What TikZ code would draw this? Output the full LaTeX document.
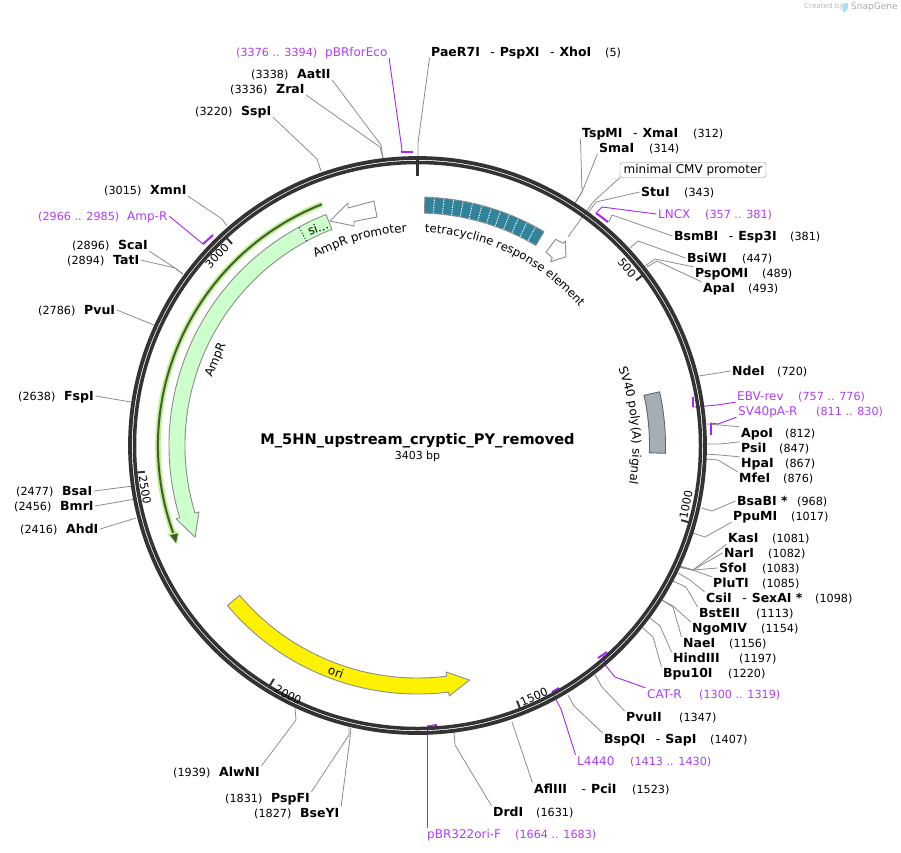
\documentclass[tikz,border=0pt]{standalone}
\usepackage{fontspec}
\setmainfont{DejaVu Sans}
\usetikzlibrary{positioning,calc,decorations.text}
\definecolor{ringgray}{HTML}{333333}
\definecolor{leadgray}{HTML}{8C8C8C}
\definecolor{primer}{HTML}{A626F5}
\definecolor{primertext}{HTML}{AD3DFB}
\definecolor{amprgreen}{HTML}{CCFFCC}
\definecolor{glowgreen}{HTML}{B9F28A}
\definecolor{darkgreen}{HTML}{485A33}
\definecolor{tealbox}{HTML}{31829B}
\definecolor{polygray}{HTML}{A5ADB5}
\newcommand{\sitesep}{\hspace{10.5pt}{\mdseries-}\hspace{5pt}}
\newcommand{\lblsize}{\fontsize{12.5}{15}\selectfont}
\newcommand{\numsize}{\fontsize{11.2}{14}\selectfont}
\newcommand{\featsize}{\fontsize{12}{14}\selectfont}

\begin{document}
\begin{tikzpicture}[
    x=1pt, y=-1pt,
    site/.style={anchor=west, xshift=-1.5pt, inner sep=1.5pt, text height=9pt, text depth=0pt, font=\lblsize\bfseries},
    num/.style={anchor=west, xshift=-1.5pt, inner sep=1.5pt, text height=9pt, text depth=0pt, font=\numsize},
    psite/.style={num, text=primertext, font=\featsize},
    pnum/.style={num, text=primertext},
    lead/.style={draw=leadgray, line width=0.8pt},
    plead/.style={draw=primer, line width=0.9pt},
    pbar/.style={draw=primer, line width=2pt},
    feature/.style={draw=leadgray, line width=0.9pt, line join=round},
    tick/.style={draw=ringgray, line width=2pt},
    ticklabel/.style={inner sep=0pt, font=\numsize},
    ftext/.style={inner sep=0pt, font=\featsize}
]
\useasboundingbox (0,0) rectangle (901,852);
\coordinate (center) at (417.5,445.5);

% Sites, clockwise from the top
\node[site] (PaeR) at (431,52) {PaeR7I\sitesep PspXI\sitesep XhoI}; \node[num] (nPaeR) at (605,52) {(5)};
\coordinate (rPaeR) at (418,157); \draw[lead] (PaeR.south west) -- (418,143) -- (rPaeR);
\node[site] (TspMI) at (582,133) {TspMI\sitesep XmaI}; \node[num] (nTspMI) at (693,133) {(312)};
\coordinate (rTspMI) at (575,203); \draw[lead] (TspMI.south west) -- (582,192) -- (rTspMI);
\node[site] (SmaI) at (599,147.5) {SmaI}; \node[num] (nSmaI) at (649,147.5) {(314)};
\coordinate (rSmaI) at (575,203); \draw[lead] (SmaI.south west) -- (582,192) -- (rSmaI);
\node[site] (StuI) at (641,192) {StuI}; \node[num] (nStuI) at (684,192) {(343)};
\coordinate (rStuI) at (588,213); \draw[lead] (StuI.west) -- (596,202) -- (rStuI);
\node[site] (BsmBI) at (674,236) {BsmBI\sitesep Esp3I}; \node[num] (nBsmBI) at (790,236) {(381)};
\coordinate (rBsmBI) at (609,222); \draw[lead] (BsmBI.west) -- (612,215) -- (rBsmBI);
\node[site] (BsiWI) at (687,258) {BsiWI}; \node[num] (nBsiWI) at (742,258) {(447)};
\coordinate (rBsiWI) at (630,248); \draw[lead] (BsiWI.west) -- (638,241) -- (rBsiWI);
\node[site] (PspOMI) at (695,273) {PspOMI}; \node[num] (nPspOMI) at (762,273) {(489)};
\coordinate (rPspOMI) at (645,266); \draw[lead] (PspOMI.north west) -- (655,259) -- (rPspOMI);
\node[site] (ApaI) at (703,288) {ApaI}; \node[num] (nApaI) at (748,288) {(493)};
\coordinate (rApaI) at (647,267); \draw[lead] (ApaI.north west) -- (657,261) -- (rApaI);
\node[site] (NdeI) at (732,371) {NdeI}; \node[num] (nNdeI) at (777,371) {(720)};
\coordinate (rNdeI) at (699,376); \draw[lead] (NdeI.west) -- (rNdeI);
\node[site] (ApoI) at (741,433) {ApoI}; \node[num] (nApoI) at (785,433) {(812)};
\coordinate (rApoI) at (707,424); \draw[lead] (ApoI.north west) -- (720,425) -- (rApoI);
\node[site] (PsiI) at (741,448) {PsiI}; \node[num] (nPsiI) at (779,448) {(847)};
\coordinate (rPsiI) at (706,444); \draw[lead] (PsiI.north west) -- (720,444) -- (rPsiI);
\node[site] (HpaI) at (741,463) {HpaI}; \node[num] (nHpaI) at (785,463) {(867)};
\coordinate (rHpaI) at (706,454); \draw[lead] (HpaI.north west) -- (720,455) -- (rHpaI);
\node[site] (MfeI) at (739,478) {MfeI}; \node[num] (nMfeI) at (783,478) {(876)};
\coordinate (rMfeI) at (706,459); \draw[lead] (MfeI.north west) -- (718,460) -- (rMfeI);
\node[site] (BsaBI) at (737,501) {BsaBI *}; \node[num] (nBsaBI) at (797,501) {(968)};
\coordinate (rBsaBI) at (702,508); \draw[lead] (BsaBI.west) -- (712,511) -- (rBsaBI);
\node[site] (PpuMI) at (733,516) {PpuMI}; \node[num] (nPpuMI) at (791,516) {(1017)};
\coordinate (rPpuMI) at (693,533); \draw[lead] (PpuMI.south west) -- (705,537) -- (rPpuMI);
\node[site] (KasI) at (728,538) {KasI}; \node[num] (nKasI) at (772,538) {(1081)};
\coordinate (rKasI) at (680,566); \draw[lead] (KasI.south west) -- (693,570) -- (rKasI);
\node[site] (NarI) at (724,553) {NarI}; \node[num] (nNarI) at (768,553) {(1082)};
\coordinate (rNarI) at (680,566.5); \draw[lead] (NarI.west) -- (693,570) -- (rNarI);
\node[site] (SfoI) at (719,568) {SfoI}; \node[num] (nSfoI) at (762,568) {(1083)};
\coordinate (rSfoI) at (680,567); \draw[lead] (SfoI.west) -- (693,570) -- (rSfoI);
\node[site] (PluTI) at (713,583) {PluTI}; \node[num] (nPluTI) at (762,583) {(1085)};
\coordinate (rPluTI) at (680,567.5); \draw[lead] (PluTI.north west) -- (693,570) -- (rPluTI);
\node[site] (CsiI) at (706,598) {CsiI\sitesep SexAI *}; \node[num] (nCsiI) at (815,598) {(1098)};
\coordinate (rCsiI) at (678,573); \draw[lead] (CsiI.north west) -- (690,580) -- (rCsiI);
\node[site] (BstEII) at (699,613) {BstEII}; \node[num] (nBstEII) at (756,613) {(1113)};
\coordinate (rBstEII) at (673,581); \draw[lead] (BstEII.north west) -- (686,587) -- (rBstEII);
\node[site] (NgoMIV) at (692,628) {NgoMIV}; \node[num] (nNgoMIV) at (761,628) {(1154)};
\coordinate (rNgoMIV) at (662,600); \draw[lead] (NgoMIV.north west) -- (673,606) -- (rNgoMIV);
\node[site] (NaeI) at (683,643) {NaeI}; \node[num] (nNaeI) at (729,643) {(1156)};
\coordinate (rNaeI) at (662,600); \draw[lead] (NaeI.north west) -- (673,607) -- (rNaeI);
\node[site] (HindIII) at (673,658) {HindIII}; \node[num] (nHindIII) at (739,658) {(1197)};
\coordinate (rHindIII) at (650,618); \draw[lead] (HindIII.north west) -- (660,626) -- (rHindIII);
\node[site] (Bpu) at (663,673) {Bpu10I}; \node[num] (nBpu) at (728,673) {(1220)};
\coordinate (rBpu) at (643,628); \draw[lead] (Bpu.north west) -- (653,637) -- (rBpu);
\node[site] (PvuII) at (626,717) {PvuII}; \node[num] (nPvuII) at (679,717) {(1347)};
\coordinate (rPvuII) at (595,675); \draw[lead] (PvuII.north west) -- (602,687) -- (rPvuII);
\node[site] (BspQI) at (604,739) {BspQI\sitesep SapI}; \node[num] (nBspQI) at (710,739) {(1407)};
\coordinate (rBspQI) at (568,695); \draw[lead] (BspQI.north west) -- (574,706) -- (rBspQI);
\node[site] (AflIII) at (534,789) {AflIII\hspace{4pt}\sitesep PciI}; \node[num] (nAflIII) at (632,789) {(1523)};
\coordinate (rAflIII) at (512,722); \draw[lead] (AflIII.north west) -- (rAflIII);
\node[site] (DrdI) at (493,812) {DrdI}; \node[num] (nDrdI) at (536,812) {(1631)};
\coordinate (rDrdI) at (454,732); \draw[lead] (DrdI.north west) -- (455,745) -- (rDrdI);
\node[site] (AlwNI) at (219,772) {AlwNI}; \node[num] (nAlwNI) at (173,772) {(1939)};
\coordinate (rAlwNI) at (295,708); \draw[lead] (AlwNI.north east) -- (296,720) -- (rAlwNI);
\node[site] (PspFI) at (271,798) {PspFI}; \node[num] (nPspFI) at (225,798) {(1831)};
\coordinate (rPspFI) at (349,727); \draw[lead] (PspFI.north east) -- (349,735) -- (rPspFI);
\node[site] (BseYI) at (300,813) {BseYI}; \node[num] (nBseYI) at (254,813) {(1827)};
\coordinate (rBseYI) at (351,728); \draw[lead] (BseYI.north east) -- (350,738) -- (rBseYI);
\node[site] (AhdI) at (66,529) {AhdI}; \node[num] (nAhdI) at (20,529) {(2416)};
\coordinate (rAhdI) at (136,518); \draw[lead] (AhdI.east) -- (rAhdI);
\node[site] (BmrI) at (60,506) {BmrI}; \node[num] (nBmrI) at (14,506) {(2456)};
\coordinate (rBmrI) at (135,499); \draw[lead] (BmrI.east) -- (rBmrI);
\node[site] (BsaI) at (62,491) {BsaI}; \node[num] (nBsaI) at (16,491) {(2477)};
\coordinate (rBsaI) at (133,486); \draw[lead] (BsaI.east) -- (rBsaI);
\node[site] (FspI) at (64,396) {FspI}; \node[num] (nFspI) at (18,396) {(2638)};
\coordinate (rFspI) at (131,402); \draw[lead] (FspI.east) -- (rFspI);
\node[site] (PvuI) at (84,310) {PvuI}; \node[num] (nPvuI) at (38,310) {(2786)};
\coordinate (rPvuI) at (154,325); \draw[lead] (PvuI.east) -- (rPvuI);
\node[site] (TatI) at (113,260) {TatI}; \node[num] (nTatI) at (67,260) {(2894)};
\coordinate (rTatI) at (183,274); \draw[lead] (TatI.east) -- (175,268) -- (rTatI);
\node[site] (ScaI) at (118,245) {ScaI}; \node[num] (nScaI) at (72,245) {(2896)};
\coordinate (rScaI) at (183,274); \draw[lead] (ScaI.south east) -- (175,268) -- (rScaI);
\node[site] (XmnI) at (150,190) {XmnI}; \node[num] (nXmnI) at (104,190) {(3015)};
\coordinate (rXmnI) at (227,226); \draw[lead] (XmnI.south east) -- (222,219) -- (rXmnI);
\node[site] (SspI) at (241,111) {SspI}; \node[num] (nSspI) at (195,111) {(3220)};
\coordinate (rSspI) at (321,171); \draw[lead] (SspI.south east) -- (317,159) -- (rSspI);
\node[site] (ZraI) at (276,89) {ZraI}; \node[num] (nZraI) at (230,89) {(3336)};
\coordinate (rZraI) at (383,158); \draw[lead] (ZraI.south east) -- (380,147) -- (rZraI);
\node[site] (AatII) at (297,74) {AatII}; \node[num] (nAatII) at (251,74) {(3338)};
\coordinate (rAatII) at (383,158); \draw[lead] (AatII.south east) -- (381,145) -- (rAatII);

% Primers
\node[psite] (LNCX) at (658,214) {LNCX}; \node[pnum] (nLNCX) at (705,214) {(357 .. 381)};
\coordinate (bLNCX) at (596,213); \coordinate (cLNCX) at (608,222); \draw[pbar] (bLNCX) -- (cLNCX);
\draw[plead] (LNCX.west) -- (602,207) -- (bLNCX);
\node[psite] (EBV) at (737,396) {EBV-rev}; \node[pnum] (nEBV) at (798,396) {(757 .. 776)};
\coordinate (bEBV) at (693,407); \coordinate (cEBV) at (693,397); \draw[pbar] (bEBV) -- (cEBV);
\draw[plead] (EBV.south west) -- (717,405) -- (695,407) -- (bEBV);
\node[psite] (SVpA) at (738,411) {SV40pA-R}; \node[pnum] (nSVpA) at (816,411) {(811 .. 830)};
\coordinate (bSVpA) at (710.7,423); \coordinate (cSVpA) at (710.7,435); \draw[pbar] (bSVpA) -- (cSVpA);
\draw[plead] (SVpA.south west) -- (718,424) -- (bSVpA);
\node[psite] (CATR) at (647,694) {CAT-R}; \node[pnum] (nCATR) at (699,694) {(1300 .. 1319)};
\coordinate (bCATR) at (598,658); \coordinate (cCATR) at (607,652); \draw[pbar] (bCATR) -- (cCATR);
\draw[plead] (CATR.north west) -- (615,677) -- (606,666) -- (603,655);
\node[psite] (L4440) at (577,761) {L4440}; \node[pnum] (nL4440) at (630,761) {(1413 .. 1430)};
\coordinate (bL4440) at (552,692); \coordinate (cL4440) at (559,688); \draw[pbar] (bL4440) -- (cL4440);
\draw[plead] (L4440.north west) -- (561,709) -- (bL4440);
\node[psite] (pBRF) at (427,834) {pBR322ori-F}; \node[pnum] (npBRF) at (515,834) {(1664 .. 1683)};
\coordinate (bpBRF) at (427,726.5); \coordinate (cpBRF) at (437,725); \draw[pbar] (bpBRF) -- (cpBRF);
\draw[plead] (pBRF.north -| bpBRF) -- (bpBRF);
\node[psite] (AmpRp) at (127,216) {Amp-R}; \node[pnum] (nAmpRp) at (38,216) {(2966 .. 2985)};
\coordinate (bAmpRp) at (203,244); \coordinate (cAmpRp) at (213,235); \draw[pbar] (bAmpRp) -- (cAmpRp);
\draw[plead] (AmpRp.east) -- (bAmpRp);
\node[psite] (pBRE) at (325,52) {pBRforEco}; \node[pnum] (npBRE) at (236,52) {(3376 .. 3394)};
\coordinate (bpBRE) at (401,152); \coordinate (cpBRE) at (413,152); \draw[pbar] (bpBRE) -- (cpBRE);
\draw[plead] (pBRE.south east) -- (402,150) -- (bpBRE);

% Small white promoter arrows
\path[feature, fill=white] (330,221) -- (348,203) -- (348,208) -- (374,201) -- (377,217) -- (354,221.5) -- (354,226) -- cycle;
\path[feature, fill=white] (546,252) -- (555.7,239.3) -- (562.7,243.3) -- (565.3,241) -- (566,256.7) -- (550.7,261.7) -- (552.3,257.7) -- cycle;
\node[draw=leadgray, rounded corners=2.5pt, inner sep=0pt, minimum width=146pt, minimum height=15pt, font=\featsize] (cmv) at (693,170) {minimal CMV promoter};
\coordinate (rcmv) at (568,237); \draw[lead] (cmv.south west) -- (593,202) -- (rcmv);

% Ring and ticks
\begin{scope}[shift={(center)}]
\draw[ringgray, line width=3.8pt] (0,0) circle[radius=287.5pt];
\draw[ringgray, line width=3.5pt] (0,0) circle[radius=283pt];
\draw[ringgray, line width=3pt] (90:270pt) -- (90:288pt);
\draw[tick] (37.1:274pt) -- (37.1:283pt);
\draw[tick] (-15.8:274pt) -- (-15.8:283pt);
\draw[tick] (-68.7:274pt) -- (-68.7:283pt);
\draw[tick] (-121.6:274pt) -- (-121.6:283pt);
\draw[tick] (-174.5:274pt) -- (-174.5:283pt);
\draw[tick] (-227.4:274pt) -- (-227.4:283pt);

% Features
\path[feature, fill=amprgreen] (111.6:248.5pt) arc[start angle=111.6, end angle=196.9, radius=248.5pt]
    -- (196.9:252.4pt) -- (202.4:240.6pt) -- (196.9:228.4pt) -- (196.9:232.5pt)
    arc[start angle=196.9, end angle=111.6, radius=232.5pt] -- cycle;
\draw[black, dotted, line width=0.9pt] (118.5:232.5pt) -- (118.5:248.5pt);
\path[feature, fill=tealbox] (88.3:248.5pt) arc[start angle=88.3, end angle=59.4, radius=248.5pt]
    -- (59.4:232.5pt) arc[start angle=59.4, end angle=88.3, radius=232.5pt] -- cycle;
\foreach \i in {1,...,12}
    \draw[white, line width=1pt, dash pattern=on 1.2pt off 1.2pt] ({88.3-\i*2.223}:233pt) -- ({88.3-\i*2.223}:248pt);
\path[feature, fill=yellow] (220.1:248.5pt) arc[start angle=220.1, end angle=277.2, radius=248.5pt]
    -- (277.2:252.5pt) -- (282.5:240.2pt) -- (277.2:228.3pt) -- (277.2:232.5pt)
    arc[start angle=277.2, end angle=220.1, radius=232.5pt] -- cycle;
\path[draw=black!60, line width=0.9pt, fill=polygray] (12.5:248pt) arc[start angle=12.5, end angle=-1.8, radius=248pt]
    -- (-1.8:232pt) arc[start angle=-1.8, end angle=12.5, radius=232pt] -- cycle;

% Primer line beside AmpR
\draw[glowgreen, line width=5.5pt] (111.6:259.5pt) arc[start angle=111.6, end angle=200, radius=259.5pt];
\draw[darkgreen, line width=2pt] (111.6:259.5pt) arc[start angle=111.6, end angle=200, radius=259.5pt];

% Curved feature names
\path[decorate, decoration={text along path, text={|\featsize|AmpR promoter}}]
    (118.5:213.5pt) arc[start angle=118.5, end angle=85, radius=213.5pt];
\path[decorate, decoration={text along path, text={|\fontsize{11.6}{14}\selectfont|tetracycline response element}}]
    (88:213pt) arc[start angle=88, end angle=35, radius=213pt];
\path[decorate, decoration={text along path, text={|\featsize|SV40 poly(A) signal}}]
    (21:215pt) arc[start angle=21, end angle=-15, radius=215pt];
\end{scope}

% Arrowhead of the primer line
\fill[glowgreen] (167,534) -- (179,532) -- (177,545) -- cycle;
\fill[darkgreen] (170,535) -- (178,533.5) -- (176,543) -- cycle;

\node[ftext, rotate=21] (signal) at (318,228) {si...};
\node[ftext, rotate=67] (ampr) at (216,360) {AmpR};
\node[ftext, rotate=-20] (ori) at (336,672) {ori};

% Tick labels
\node[ticklabel, rotate=-50] (t500) at (627,268) {500};
\node[ticklabel, rotate=78] (t1000) at (686,505) {1000};
\node[ticklabel, rotate=23] (t1500) at (534,697) {1500};
\node[ticklabel, rotate=-28] (t2000) at (288,695) {2000};
\node[ticklabel, rotate=-80] (t2500) at (145,490) {2500};
\node[ticklabel, rotate=46] (t3000) at (217,256) {3000};

% Plasmid name
\node[inner sep=0pt, font=\fontsize{14.6}{17}\selectfont\bfseries] (title) at (417.5,441) {M\_5HN\_upstream\_cryptic\_PY\_removed};
\node[inner sep=0pt, font=\fontsize{11}{13}\selectfont] (length) at (417.5,456) {3403 bp};

% Watermark
\node[anchor=west, inner sep=0pt, text=black!27, font=\fontsize{7.2}{9}\selectfont] (created) at (804,7) {Created by};
\fill[cyan!35] (843,3) -- (848,3) -- (848,8) -- (845,12) -- (843,12) -- cycle;
\node[anchor=west, inner sep=0pt, text=black!33, font=\fontsize{9}{11}\selectfont] (snapgene) at (851,7) {SnapGene};
\end{tikzpicture}
\end{document}
